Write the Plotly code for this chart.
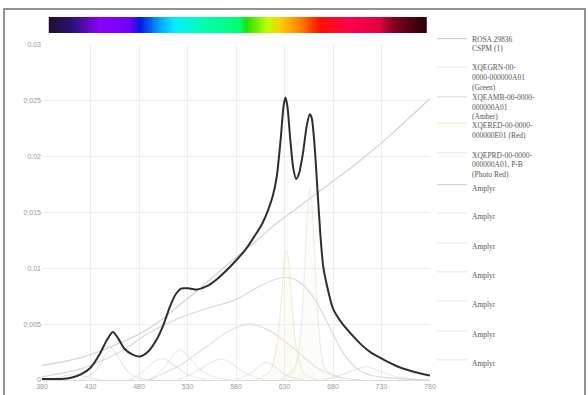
import plotly.graph_objects as go

# ---------------- data ----------------
total_x = [380, 400, 410, 420, 430, 440, 447, 453, 458, 465, 473, 481, 490, 498, 505, 512, 518, 524,
           532, 540, 550, 560, 570, 580, 590, 600, 607, 613, 618, 622, 626, 629, 631, 633, 636, 639,
           642, 645, 649, 653, 656, 658, 661, 664, 667, 670, 675, 680, 690, 700, 710, 720, 735, 750,
           765, 780]
total_y = [0.0001, 0.0001, 0.0002, 0.0005, 0.0011, 0.0024, 0.0036, 0.0043, 0.0038, 0.0028, 0.0023,
           0.0021, 0.0026, 0.0036, 0.0049, 0.0066, 0.0077, 0.0082, 0.0082, 0.0081, 0.0084, 0.0090,
           0.0098, 0.0107, 0.0117, 0.0130, 0.0140, 0.0152, 0.0165, 0.0182, 0.0215, 0.0245, 0.0253,
           0.0245, 0.0215, 0.0190, 0.0180, 0.0185, 0.0203, 0.0228, 0.0238, 0.0235, 0.0210, 0.0170,
           0.0130, 0.0101, 0.0080, 0.0064, 0.0050, 0.0040, 0.0031, 0.0024, 0.0017, 0.0011, 0.0007,
           0.0004]

rosa_x = [380, 400, 420, 440, 460, 480, 500, 520, 540, 560, 580, 600, 620, 640, 660, 680, 700, 720,
          740, 760, 780]
rosa_y = [0.0013, 0.0016, 0.0020, 0.0026, 0.0033, 0.0041, 0.0052, 0.0066, 0.0080, 0.0095, 0.0110,
          0.0124, 0.0139, 0.0152, 0.0165, 0.0178, 0.0191, 0.0205, 0.0220, 0.0236, 0.0252]

green_x = [490, 505, 515, 523, 532, 545, 560, 575]
green_y = [0.0, 0.0010, 0.0022, 0.0027, 0.0020, 0.0008, 0.0002, 0.0]

amber_x = [490, 520, 550, 575, 595, 615, 640, 665, 690, 710]
amber_y = [0.0, 0.0012, 0.0030, 0.0045, 0.0050, 0.0044, 0.0028, 0.0010, 0.0002, 0.0]

red_x = [600, 615, 622, 627, 630, 632, 634, 637, 642, 650, 665]
red_y = [0.0, 0.0008, 0.0030, 0.0075, 0.0108, 0.0116, 0.0108, 0.0075, 0.0030, 0.0006, 0.0]

photo_x = [625, 640, 647, 651, 654, 656, 658, 661, 665, 672, 690]
photo_y = [0.0, 0.0010, 0.0045, 0.0105, 0.0155, 0.0172, 0.0160, 0.0115, 0.0050, 0.0010, 0.0]

broad_x = [380, 420, 460, 490, 520, 550, 580, 600, 620, 632, 645, 660, 675, 690, 705, 720, 750, 780]
broad_y = [0.0003, 0.0010, 0.0025, 0.0042, 0.0055, 0.0064, 0.0072, 0.0082, 0.0090, 0.0092, 0.0088,
           0.0074, 0.0050, 0.0025, 0.0010, 0.0004, 0.0001, 0.0]

blue_x = [420, 435, 445, 452, 460, 470, 485, 500]
blue_y = [0.0, 0.0008, 0.0022, 0.0028, 0.0018, 0.0006, 0.0001, 0.0]

cyan_x = [470, 485, 495, 505, 515, 530, 550]
cyan_y = [0.0, 0.0008, 0.0016, 0.0019, 0.0014, 0.0005, 0.0]

lime_x = [520, 540, 555, 565, 575, 590, 610]
lime_y = [0.0, 0.0008, 0.0016, 0.0019, 0.0015, 0.0006, 0.0]

orange_x = [580, 595, 605, 612, 620, 632, 650]
orange_y = [0.0, 0.0006, 0.0013, 0.0016, 0.0012, 0.0004, 0.0]

deep_x = [670, 690, 705, 715, 725, 745, 770]
deep_y = [0.0, 0.0005, 0.0010, 0.0012, 0.0009, 0.0003, 0.0]

violet_x = [380, 395, 405, 415, 425, 440]
violet_y = [0.0, 0.0002, 0.0004, 0.0005, 0.0003, 0.0]

legend_names = [
    "ROSA 29836<br>CSPM (1)",
    "XQEGRN-00-<br>0000-000000A01<br>(Green)",
    "XQEAMB-00-0000-<br>000000A01<br>(Amber)",
    "XQERED-00-0000-<br>000000E01 (Red)",
    "XQEPRD-00-0000-<br>000000A01, P-B<br>(Photo Red)",
    "Amplyr", "Amplyr", "Amplyr", "Amplyr", "Amplyr", "Amplyr", "Amplyr",
]
legend_rows_px = [40.7, 69.3, 99, 127, 156.7, 186.7, 215, 245, 274, 303, 333, 362]

spec_x = [388, 412, 440, 471, 481, 502, 517, 550, 584, 591, 612, 625, 646, 667, 697, 728, 744, 773]
spec_colors = ["#1c1030", "#30107a", "#8a00ff", "#7000ff", "#0018e0", "#00a8ff", "#00f0ff",
               "#00ffa8", "#00ff70", "#20e000", "#b8ff00", "#ffd000", "#ff8000", "#ff1000",
               "#ff0050", "#e00040", "#800020", "#300008"]

x_ticks = [380, 430, 480, 530, 580, 630, 680, 730, 780]
y_ticks = [0, 0.005, 0.01, 0.015, 0.02, 0.025, 0.03]
y_tick_text = ["0", "0.005", "0.01", "0.015", "0.02", "0.025", "0.03"]

# ---------------- geometry ----------------
W, H = 588, 395
ML, MR, MT, MB = 42, 158, 10, 15
PW = W - ML - MR
PH = H - MT - MB


def px_to_paper_x(px):
    return (px - ML) / PW


def py_to_paper_y(py):
    return (H - MB - py) / PH


fig = go.Figure()

# spectrum bar
lo, hi = spec_x[0], spec_x[-1]
cscale = [[(v - lo) / (hi - lo), c] for v, c in zip(spec_x, spec_colors)]
bar_x = list(range(388, 778, 2))
fig.add_trace(go.Heatmap(x=bar_x, y=[0], z=[bar_x], colorscale=cscale, zmin=lo, zmax=hi,
                         showscale=False, hoverinfo="skip", xaxis="x", yaxis="y2"))

comps = [
    (rosa_x, rosa_y, "rgba(205,205,205,0.9)", None),
    (green_x, green_y, "rgba(205,215,205,0.45)", None),
    (amber_x, amber_y, "rgba(218,218,210,0.85)", None),
    (red_x, red_y, "rgba(235,225,190,0.6)", "rgba(250,242,215,0.22)"),
    (photo_x, photo_y, "rgba(222,228,212,0.6)", "rgba(242,246,235,0.2)"),
    (broad_x, broad_y, "rgba(210,210,210,0.85)", None),
    (blue_x, blue_y, "rgba(205,205,212,0.45)", None),
    (cyan_x, cyan_y, "rgba(205,210,210,0.45)", None),
    (lime_x, lime_y, "rgba(208,210,202,0.45)", None),
    (orange_x, orange_y, "rgba(212,208,204,0.45)", None),
    (deep_x, deep_y, "rgba(210,204,204,0.45)", None),
    (violet_x, violet_y, "rgba(208,204,212,0.45)", None),
]

for i, ((cx, cy, col, fillc), name) in enumerate(zip(comps, legend_names)):
    lg = "legend" if i == 0 else f"legend{i + 1}"
    fig.add_trace(go.Scatter(
        x=cx, y=cy, mode="lines", name=name, legend=lg,
        line=dict(color=col, width=1.2, shape="spline", smoothing=0.8),
        fill="tozeroy" if fillc else None, fillcolor=fillc,
        xaxis="x", yaxis="y", hoverinfo="skip"))

fig.add_trace(go.Scatter(x=total_x, y=total_y, mode="lines", showlegend=False,
                         line=dict(color="#2e2e2e", width=2, shape="spline", smoothing=0.7),
                         xaxis="x", yaxis="y", hoverinfo="skip"))

layout = dict(
    width=W, height=H,
    margin=dict(l=ML, r=MR, t=MT, b=MB, autoexpand=False),
    paper_bgcolor="white", plot_bgcolor="white",
    font=dict(family="Liberation Sans, Arial, sans-serif", size=7, color="#9a9a9a"),
    xaxis=dict(range=[380, 780], tickvals=x_ticks, ticktext=[str(t) for t in x_ticks],
               showgrid=True, gridcolor="#ececec", gridwidth=1, zeroline=False,
               showline=True, linecolor="#dcdcdc", linewidth=1, ticks="", ticklen=0,
               tickfont=dict(size=7, color="#9a9a9a"), fixedrange=True, automargin=False),
    yaxis=dict(domain=[0, py_to_paper_y(45)], range=[0, 0.03], tickvals=y_ticks,
               ticktext=y_tick_text, showgrid=True, gridcolor="#ececec", gridwidth=1,
               zeroline=False, showline=False, ticks="", tickfont=dict(size=7, color="#9a9a9a"),
               fixedrange=True, automargin=False),
    yaxis2=dict(domain=[py_to_paper_y(33), py_to_paper_y(17)], anchor="x", visible=False,
                showgrid=False, range=[-0.5, 0.5], fixedrange=True),
    shapes=[dict(type="rect", xref="paper", yref="paper",
                 x0=px_to_paper_x(4), x1=px_to_paper_x(585),
                 y0=py_to_paper_y(400), y1=py_to_paper_y(9),
                 line=dict(color="#707070", width=1.5), fillcolor="rgba(0,0,0,0)", layer="below")],
)

for i, row in enumerate(legend_rows_px):
    key = "legend" if i == 0 else f"legend{i + 1}"
    layout[key] = dict(x=px_to_paper_x(432), xanchor="left", y=py_to_paper_y(row - 13.5),
                       yanchor="top", valign="top", bgcolor="rgba(0,0,0,0)", borderwidth=0,
                       itemwidth=30, tracegroupgap=0,
                       font=dict(family="Liberation Serif, Times New Roman, serif", size=7.5,
                                 color="#555555"))

fig.update_layout(**layout)
fig.write_html("out.html")
